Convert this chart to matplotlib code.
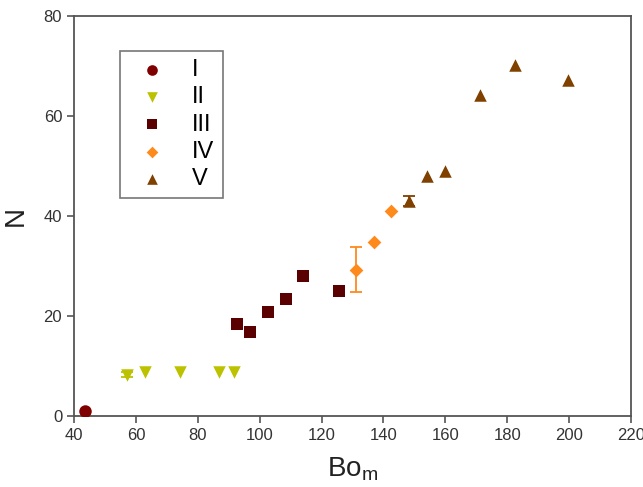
import matplotlib
matplotlib.use('Agg')
import matplotlib.pyplot as plt
import numpy as np

plt.rcParams['font.family'] = ['Liberation Sans', 'DejaVu Sans']
plt.rcParams['mathtext.fontset'] = 'custom'
plt.rcParams['mathtext.rm'] = 'Liberation Sans'

# Data
bo_1 = [43.5]
n_1 = [1.0]
err_1 = [0.0]

bo_2 = [57.2, 62.8, 74.3, 86.9, 91.7]
n_2 = [8.3, 8.8, 8.8, 8.8, 8.8]
err_2 = [0.5, 0.0, 0.0, 0.0, 0.0]

bo_3 = [92.7, 97.0, 102.8, 108.4, 114.0, 125.5]
n_3 = [18.4, 16.9, 20.9, 23.4, 28.0, 25.0]
err_3 = [0.6, 1.0, 0.0, 0.6, 0.0, 0.0]

bo_4 = [131.2, 136.9, 142.6]
n_4 = [29.3, 34.9, 41.0]
err_4 = [4.5, 0.0, 0.0]

bo_5 = [148.4, 154.0, 159.8, 171.1, 182.5, 199.6]
n_5 = [43.1, 48.1, 49.1, 64.2, 70.2, 67.2]
err_5 = [1.0, 0.0, 0.0, 0.0, 0.0, 0.0]

labels = ['I', 'II', 'III', 'IV', 'V']

fig = plt.figure(figsize=(6.43, 4.87), dpi=100)
ax = fig.add_axes([74 / 643, 1 - 416 / 487, (631 - 74) / 643, 400 / 487])

series = [
    (bo_1, n_1, err_1, 'o', '#800000', 9),
    (bo_2, n_2, err_2, 'v', '#bcc200', 9),
    (bo_3, n_3, err_3, 's', '#5a0000', 8),
    (bo_4, n_4, err_4, 'D', '#ff8a1c', 7),
    (bo_5, n_5, err_5, '^', '#7f4000', 9),
]

handles = []
for (x, y, e, m, c, s), lab in zip(series, labels):
    x, y, e = np.array(x), np.array(y), np.array(e)
    k = e > 0
    if k.any():
        ax.errorbar(x[k], y[k], yerr=e[k], fmt='none', ecolor=c, elinewidth=1.3,
                    capsize=4.5, capthick=1.3)
    h = ax.scatter(x, y, marker=m, color=c, s=s ** 2, linewidths=0, zorder=3, label=lab)
    handles.append(h)

ax.set_xlim(40, 220)
ax.set_ylim(0, 80)
ax.set_xticks(range(40, 221, 20))
ax.set_yticks(range(0, 81, 20))
for sp in ax.spines.values():
    sp.set_color('#555555')
    sp.set_linewidth(1.3)
ax.tick_params(direction='out', length=5, width=1.2, color='#555555', labelsize=12, labelcolor='#333333')

ax.set_xlabel('Bo$_\\mathrm{m}$', fontsize=20, color='#222222', labelpad=9)
ax.set_ylabel('N', fontsize=20, color='#222222', labelpad=11)

leg = ax.legend(handles=handles, loc='upper left',
                bbox_to_anchor=((120 - 74) / 557, (416 - 51) / 400),
                fontsize=17, frameon=True, fancybox=False, handletextpad=0.7,
                labelspacing=0.22, borderpad=0.35, markerscale=0.85, scatterpoints=1,
                handlelength=2.0, borderaxespad=0)
leg.get_frame().set_edgecolor('#555555')
leg.get_frame().set_linewidth(1.2)

fig.savefig('out.png', dpi=100)
